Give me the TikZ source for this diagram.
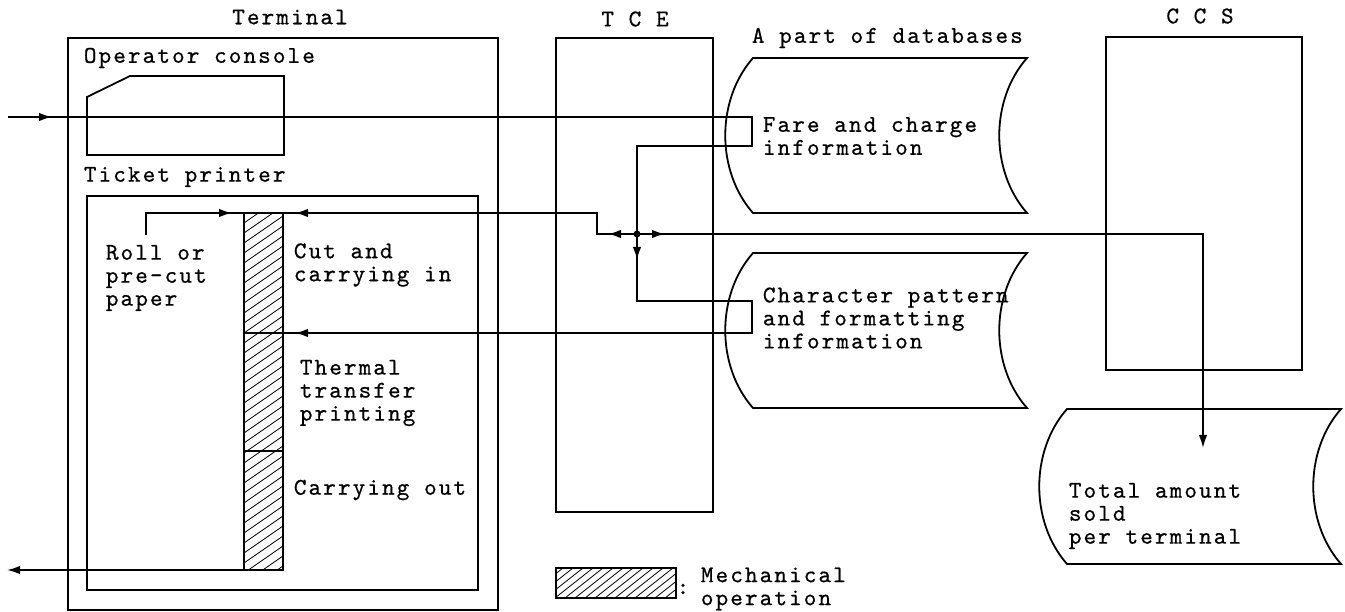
\documentclass[tikz,border=0pt]{standalone}
\usepackage{fontspec}
\newfontfamily\lmtw{lmmono10-regular.otf}[LetterSpace=8.75,FakeBold=0.6]
\usetikzlibrary{arrows.meta,decorations.markings}
\newcommand{\tw}{\lmtw\fontsize{24}{23}\selectfont}
\begin{document}
\begin{tikzpicture}[x=1pt,y=-1pt,line width=1.8pt,
  txt/.style={font=\tw,inner sep=0pt,align=left,anchor=west},
  ttl/.style={font=\tw,inner sep=0pt,anchor=center},
  blk/.style={draw,line width=1.8pt,inner sep=0pt,outer sep=0pt,anchor=north west},
  arw/.tip={Latex[length=13pt,width=8.5pt]},
  marks/.style={postaction={decorate},decoration={markings,#1}},
  hatch/.style={line width=0.8pt},
  storage/.pic={\draw[line width=1.8pt] (0,0) -- (274,0) .. controls (237,42) and (237,113) .. (274,155) -- (0,155) .. controls (-37,113) and (-37,42) .. (0,0) -- cycle;}
]
\useasboundingbox (0,0) rectangle (1345,612);
\fill[white] (0,0) rectangle (1345,612);

% titles
\node[ttl] (tTerm) at (290,17) {Terminal};
\node[ttl] (tTCE) at (635,19) {T C E};
\node[ttl] (tCCS) at (1200,16) {C C S};
\node[txt] (dbl) at (751,38) {A part of databases};

% terminal
\node[blk,minimum width=430,minimum height=572] (term) at (68,38) {};
\node[txt] (opc) at (83,58) {Operator console};
\draw (87,97) -- (130,76) -- (284,76) -- (284,155) -- (87,155) -- cycle;
\coordinate (console) at (185,116);
\node[txt] (tkp) at (83,177) {Ticket printer};
\node[blk,minimum width=391,minimum height=394] (printer) at (87,196) {};

% hatched bar
\begin{scope}
  \clip (244,213) rectangle (283,570);
  \foreach \k in {0,...,38} \draw[hatch] (244,{213+\k*10}) -- ++(39,-27);
\end{scope}
\node[blk,minimum width=39,minimum height=120] (bara) at (244,213) {};
\node[blk,minimum width=39,minimum height=118] (barb) at (244,333) {};
\node[blk,minimum width=39,minimum height=119] (barc) at (244,451) {};

\node[txt] (roll) at (105,278) {Roll or\\pre-cut\\paper};
\node[txt] (cut) at (293,265) {Cut and\\carrying in};
\node[txt] (therm) at (299,393) {Thermal\\transfer\\printing};
\node[txt] (cout) at (293,490) {Carrying out};

% TCE and CCS
\node[blk,minimum width=157,minimum height=474] (tce) at (556,38) {};
\node[blk,minimum width=196,minimum height=333] (ccs) at (1106,37) {};

% storages
\pic at (753,58) {storage};
\pic at (753,253) {storage};
\pic at (1067,409) {storage};
\node[txt] (fare) at (762,136) {Fare and charge\\information};
\node[txt] (charp) at (762,318) {Character pattern\\and formatting\\information};
\node[txt] (total) at (1068,516) {Total amount\\sold\\per terminal};

% legend
\begin{scope}
  \clip (556,568) rectangle (676,598);
  \foreach \k in {0,...,18} \draw[hatch] ({515+\k*10},598) -- ++(38,-30);
\end{scope}
\node[blk,minimum width=120,minimum height=30] (legend) at (556,568) {};
\node[ttl] (colon) at (683,589) {:};
\node[txt] (mech) at (700,589) {Mechanical\\operation};

% connectors
\coordinate (inA) at (8,117);
\coordinate (jn) at (637,234);
\coordinate (paperA) at (146,235);
\coordinate (outB) at (7,570);
\draw[marks={mark=at position 44pt with {\arrow{arw}}}] (inA) -- (752,117) -- (752,146) -- (637,146) -- (jn);
\draw[marks={mark=at position 29pt with {\arrow{arw}}, mark=at position 363pt with {\arrow{arw}}}] (jn) -- (597,234) -- (597,213) -- (bara.north east);
\draw[marks={mark=at position 26pt with {\arrow{arw}}, mark=at position 671pt with {\arrow{arw}}}] (jn) -- (637,301) -- (752,301) -- (752,333) -- (barb.north east);
\draw[marks={mark=at position 28pt with {\arrow{arw}}}, -arw] (jn) -- (1203,234) -- (1203,448);
\draw[marks={mark=at position 108pt with {\arrow{arw}}}] (paperA) -- (146,213) -- (bara.north west);
\draw[-arw] (barc.south west) -- (outB);
\fill (jn) circle (3.5);
\end{tikzpicture}
\end{document}
